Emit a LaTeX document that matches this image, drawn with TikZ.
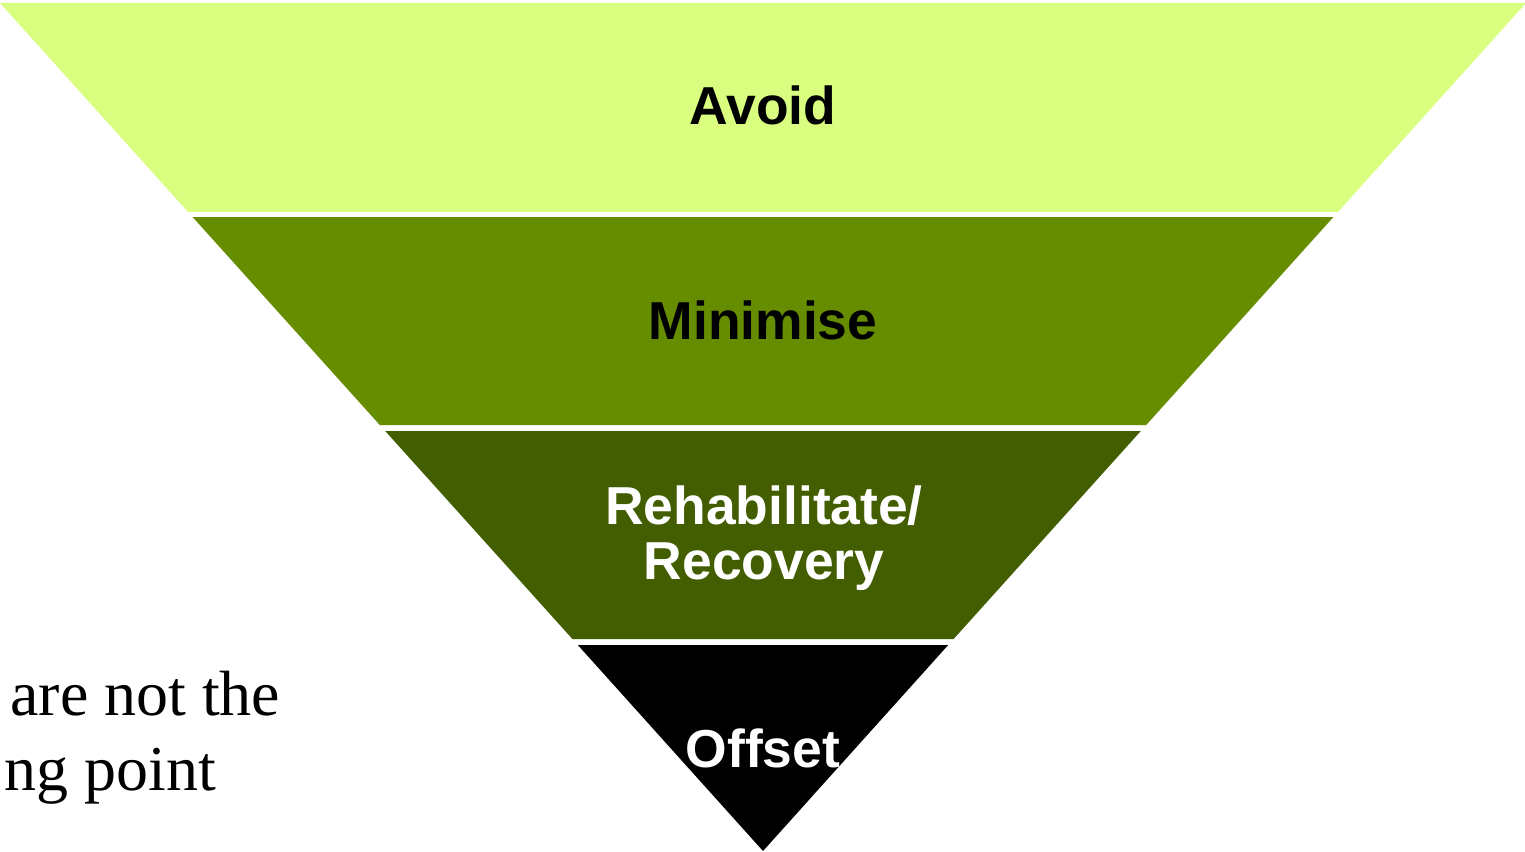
\documentclass[tikz,border=0pt]{standalone}
\usepackage{fontspec}
\setmainfont{Liberation Serif}
\newfontfamily\labelfont{Liberation Sans}
\definecolor{avoidgreen}{RGB}{218,255,128}
\definecolor{minimisegreen}{RGB}{102,140,0}
\definecolor{rehabgreen}{RGB}{66,94,0}
\tikzset{
  band label/.style={font=\labelfont\bfseries\fontsize{15.2}{15.6}\selectfont, align=center},
  note text/.style={font=\fontsize{18.2}{20}\selectfont, inner sep=0pt}
}
\begin{document}
\begin{tikzpicture}
\useasboundingbox (0,0) rectangle (15.25,8.51);
\fill[avoidgreen] (0,8.48) -- (15.26,8.48) -- (13.379,6.39) -- (1.881,6.39) -- cycle;
\fill[minimisegreen] (1.926,6.34) -- (13.334,6.34) -- (11.462,4.26) -- (3.798,4.26) -- cycle;
\fill[rehabgreen] (3.852,4.20) -- (11.408,4.20) -- (9.536,2.12) -- (5.724,2.12) -- cycle;
\fill[black] (5.778,2.06) -- (9.482,2.06) -- (7.63,0) -- cycle;
\node[band label] (avoid) at (7.63,7.46) {Avoid};
\node[band label] (minimise) at (7.63,5.31) {Minimise};
\node[band label, white] (rehab) at (7.64,3.13) {Rehabilitate/\\Recovery};
\node[band label, white] (offset) at (7.63,1.03) {Offset};
\node[note text, anchor=base east] (notea) at (2.81,1.36) {are not the};
\node[note text, anchor=base east] (noteb) at (2.17,0.61) {ng point};
\end{tikzpicture}
\end{document}
